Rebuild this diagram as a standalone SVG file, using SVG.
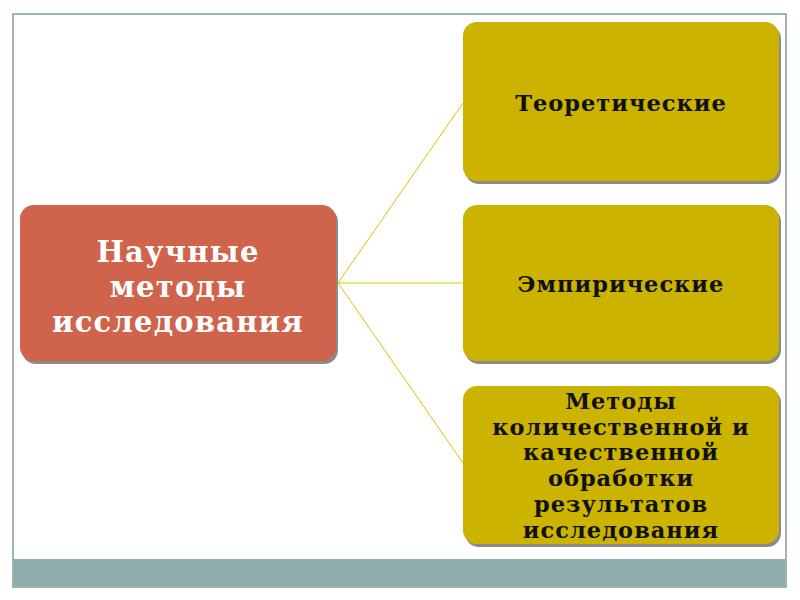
<svg xmlns="http://www.w3.org/2000/svg" width="800" height="600" viewBox="0 0 800 600">
<defs>
<style>
.frame{fill:#ffffff;stroke:#7f9a9a;stroke-width:1.5}
.band{fill:#8dacac}
.shadow{fill:#8a8a8a}
.red{fill:#d0634c}
.gold{fill:#cbb300}
.conn{stroke:#e2c200;stroke-width:1;fill:none}
.tw{font-family:"DejaVu Serif",serif;font-weight:bold;fill:#ffffff;font-size:29px;text-anchor:middle;letter-spacing:1.2px}
.tb{font-family:"DejaVu Serif",serif;font-weight:bold;fill:#111111;font-size:22.5px;text-anchor:middle;letter-spacing:1px}
</style>
</defs>
<rect width="800" height="600" fill="#ffffff"/>
<rect class="frame" x="13" y="14" width="773" height="573"/>
<rect class="band" x="14" y="559" width="771" height="27"/>
<g id="connectors">
<line class="conn" x1="338" y1="283" x2="463" y2="103"/>
<line class="conn" x1="338" y1="283" x2="463" y2="283"/>
<line class="conn" x1="338" y1="283" x2="463" y2="463"/>
</g>
<g id="node-main">
<rect class="shadow" x="22" y="208" width="316" height="156" rx="14"/>
<rect class="red" x="20" y="205" width="316" height="156" rx="14"/>
<text class="tw" x="178" y="262">Научные</text>
<text class="tw" x="178" y="297">методы</text>
<text class="tw" x="178" y="332">исследования</text>
</g>
<g id="node-theor">
<rect class="shadow" x="465" y="25" width="316" height="159" rx="14"/>
<rect class="gold" x="463" y="22" width="316" height="159" rx="14"/>
<text class="tb" x="621" y="111">Теоретические</text>
</g>
<g id="node-emp">
<rect class="shadow" x="465" y="208" width="316" height="156" rx="14"/>
<rect class="gold" x="463" y="205" width="316" height="156" rx="14"/>
<text class="tb" x="621" y="292">Эмпирические</text>
</g>
<g id="node-proc">
<rect class="shadow" x="465" y="389" width="316" height="158" rx="14"/>
<rect class="gold" x="463" y="386" width="316" height="158" rx="14"/>
<text class="tb" x="621" y="409">Методы</text>
<text class="tb" x="621" y="435">количественной и</text>
<text class="tb" x="621" y="460">качественной</text>
<text class="tb" x="621" y="486">обработки</text>
<text class="tb" x="621" y="512">результатов</text>
<text class="tb" x="621" y="538">исследования</text>
</g>
</svg>
